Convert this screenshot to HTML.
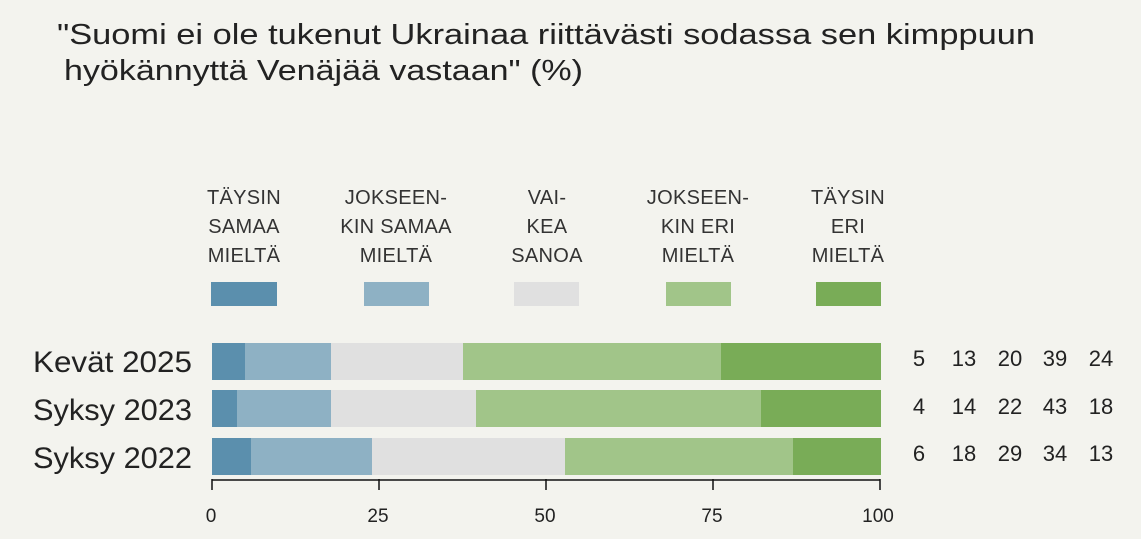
<!DOCTYPE html><html><head><meta charset="utf-8"><style>
body{margin:0;background:#f3f3ee;}
svg{display:block;font-family:"Liberation Sans","DejaVu Sans",sans-serif;}
</style></head><body>
<svg width="1141" height="539" viewBox="0 0 1141 539">
<rect width="1141" height="539" fill="#f3f3ee"/>
<g font-size="29" fill="#222">
<text x="57" y="44" textLength="978" lengthAdjust="spacingAndGlyphs">"Suomi ei ole tukenut Ukrainaa riittävästi sodassa sen kimppuun</text>
<text x="64" y="80" textLength="519" lengthAdjust="spacingAndGlyphs">hyökännyttä Venäjää vastaan" (%)</text>
</g>
<g font-size="20" fill="#333" text-anchor="middle" letter-spacing="0.3">
<text x="244" y="204">TÄYSIN</text><text x="244" y="233">SAMAA</text><text x="244" y="262">MIELTÄ</text>
<text x="396" y="204">JOKSEEN-</text><text x="396" y="233">KIN SAMAA</text><text x="396" y="262">MIELTÄ</text>
<text x="547" y="204">VAI-</text><text x="547" y="233">KEA</text><text x="547" y="262">SANOA</text>
<text x="698" y="204">JOKSEEN-</text><text x="698" y="233">KIN ERI</text><text x="698" y="262">MIELTÄ</text>
<text x="848" y="204">TÄYSIN</text><text x="848" y="233">ERI</text><text x="848" y="262">MIELTÄ</text>
</g>
<rect x="211" y="282" width="66" height="24" fill="#5b8fad"/>
<rect x="364" y="282" width="65" height="24" fill="#8eb1c4"/>
<rect x="514" y="282" width="65" height="24" fill="#e0e0e0"/>
<rect x="666" y="282" width="65" height="24" fill="#a1c589"/>
<rect x="816" y="282" width="65" height="24" fill="#79ac57"/>
<g>
<rect x="212" y="343" width="33" height="37" fill="#5b8fad"/><rect x="245" y="343" width="86" height="37" fill="#8eb1c4"/><rect x="331" y="343" width="132" height="37" fill="#e0e0e0"/><rect x="463" y="343" width="258" height="37" fill="#a1c589"/><rect x="721" y="343" width="160" height="37" fill="#79ac57"/>
<rect x="212" y="390" width="25" height="37" fill="#5b8fad"/><rect x="237" y="390" width="94" height="37" fill="#8eb1c4"/><rect x="331" y="390" width="145" height="37" fill="#e0e0e0"/><rect x="476" y="390" width="285" height="37" fill="#a1c589"/><rect x="761" y="390" width="120" height="37" fill="#79ac57"/>
<rect x="212" y="438" width="39" height="37" fill="#5b8fad"/><rect x="251" y="438" width="121" height="37" fill="#8eb1c4"/><rect x="372" y="438" width="193" height="37" fill="#e0e0e0"/><rect x="565" y="438" width="228" height="37" fill="#a1c589"/><rect x="793" y="438" width="88" height="37" fill="#79ac57"/>
</g>
<g font-size="30" fill="#222">
<text x="33" y="372" textLength="159" lengthAdjust="spacingAndGlyphs">Kevät 2025</text><text x="33" y="420" textLength="159" lengthAdjust="spacingAndGlyphs">Syksy 2023</text><text x="33" y="468" textLength="159" lengthAdjust="spacingAndGlyphs">Syksy 2022</text>
</g>
<g font-size="22" fill="#222" text-anchor="middle">
<text x="919" y="366">5</text><text x="964" y="366">13</text><text x="1010" y="366">20</text><text x="1055" y="366">39</text><text x="1101" y="366">24</text>
<text x="919" y="414">4</text><text x="964" y="414">14</text><text x="1010" y="414">22</text><text x="1055" y="414">43</text><text x="1101" y="414">18</text>
<text x="919" y="461">6</text><text x="964" y="461">18</text><text x="1010" y="461">29</text><text x="1055" y="461">34</text><text x="1101" y="461">13</text>
</g>
<g stroke="#111" stroke-width="1.5" fill="none">
<path d="M212 480H880M212 479V490M379 479V490M546 479V490M713 479V490M880 479V490"/>
</g>
<g font-size="19" fill="#222" text-anchor="middle">
<text x="211" y="522">0</text><text x="378" y="522">25</text><text x="545" y="522">50</text><text x="712" y="522">75</text><text x="878" y="522">100</text>
</g>
</svg>
</body></html>
